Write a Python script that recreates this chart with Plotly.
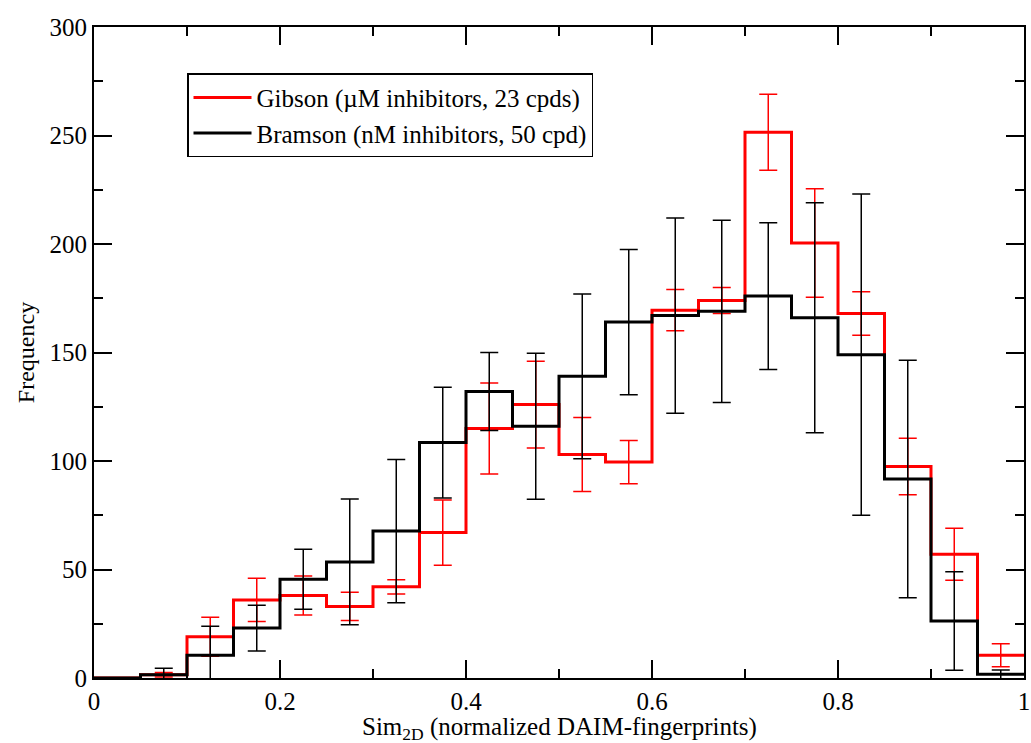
import plotly.graph_objects as go

bin_edges = [round(0.05 * i, 2) for i in range(21)]
bin_centers = [round(0.025 + 0.05 * i, 3) for i in range(20)]

gibson_freq = [0, 1.5, 19, 36, 38, 33, 42, 67, 115, 126, 103, 99.5, 169.5, 174, 251.5, 200.5, 168, 97.5, 57, 10.5]
gibson_err = [0, 1, 9, 10, 9, 6.5, 3.3, 15, 21, 20, 17, 10, 9.5, 6, 17.5, 25, 10, 13, 12, 5.3]

bramson_freq = [0, 1.5, 10.5, 23, 45.5, 53.5, 67.7, 108.5, 132, 116, 139, 164, 167, 169, 176, 166, 149, 91.7, 26.3, 1.7]
bramson_err = [0, 3, 13.3, 10.5, 13.8, 29, 33, 25.5, 18, 33.6, 38, 33.5, 45, 42, 33.8, 53, 74, 54.7, 22.7, 2]

names = ["Gibson (\u00b5M inhibitors, 23 cpds)", "Bramson (nM inhibitors, 50 cpd)"]
colors = ["#ff0000", "#000000"]
x_title = "Sim<sub>2D</sub> (normalized DAIM-fingerprints)"
y_title = "Frequency"

FONT = "Liberation Serif, Times New Roman, serif"

fig = go.Figure()
for freq, err, name, col in [(gibson_freq, gibson_err, names[0], colors[0]),
                             (bramson_freq, bramson_err, names[1], colors[1])]:
    fig.add_trace(go.Scatter(
        x=bin_edges, y=freq + [freq[-1]], mode="lines", line_shape="hv",
        line=dict(color=col, width=3), name=name, showlegend=True))
    fig.add_trace(go.Scatter(
        x=bin_centers, y=freq, mode="markers",
        marker=dict(size=1, color=col, opacity=0),
        error_y=dict(type="data", array=err, visible=True, color=col,
                     thickness=1.5, width=9),
        showlegend=False, hoverinfo="skip"))

axis_common = dict(showline=True, linecolor="black", linewidth=2, mirror="ticks",
                   ticks="inside", ticklen=18, tickwidth=1.5, tickcolor="black",
                   showgrid=False, zeroline=False, automargin=False,
                   tickfont=dict(family=FONT, size=25, color="black"))

fig.update_xaxes(range=[0, 1], tick0=0, dtick=0.2, tickformat="~g",
                 minor=dict(ticks="inside", ticklen=9, tickwidth=1.5, tickcolor="black", dtick=0.1, showgrid=False),
                 **axis_common)
fig.update_yaxes(range=[0, 300], tick0=0, dtick=50,
                 minor=dict(ticks="inside", ticklen=9, tickwidth=1.5, tickcolor="black", dtick=25, showgrid=False),
                 title=dict(text=y_title, font=dict(family=FONT, size=24, color="black"), standoff=8),
                 **axis_common)

fig.add_annotation(text=x_title, xref="paper", yref="paper", x=0.5, y=0,
                   xanchor="center", yanchor="top", yshift=-33, showarrow=False,
                   font=dict(family=FONT, size=25, color="black"))

fig.update_layout(
    width=1031, height=743,
    margin=dict(l=94, r=7, t=27, b=65),
    plot_bgcolor="white", paper_bgcolor="white",
    font=dict(family=FONT, color="black"),
    legend=dict(x=0.1, y=0.929, xanchor="left", yanchor="top",
                bordercolor="black", borderwidth=1.5, bgcolor="white",
                font=dict(family=FONT, size=25, color="black"),
                itemwidth=58, tracegroupgap=0),
)

fig.write_html("out.html")
